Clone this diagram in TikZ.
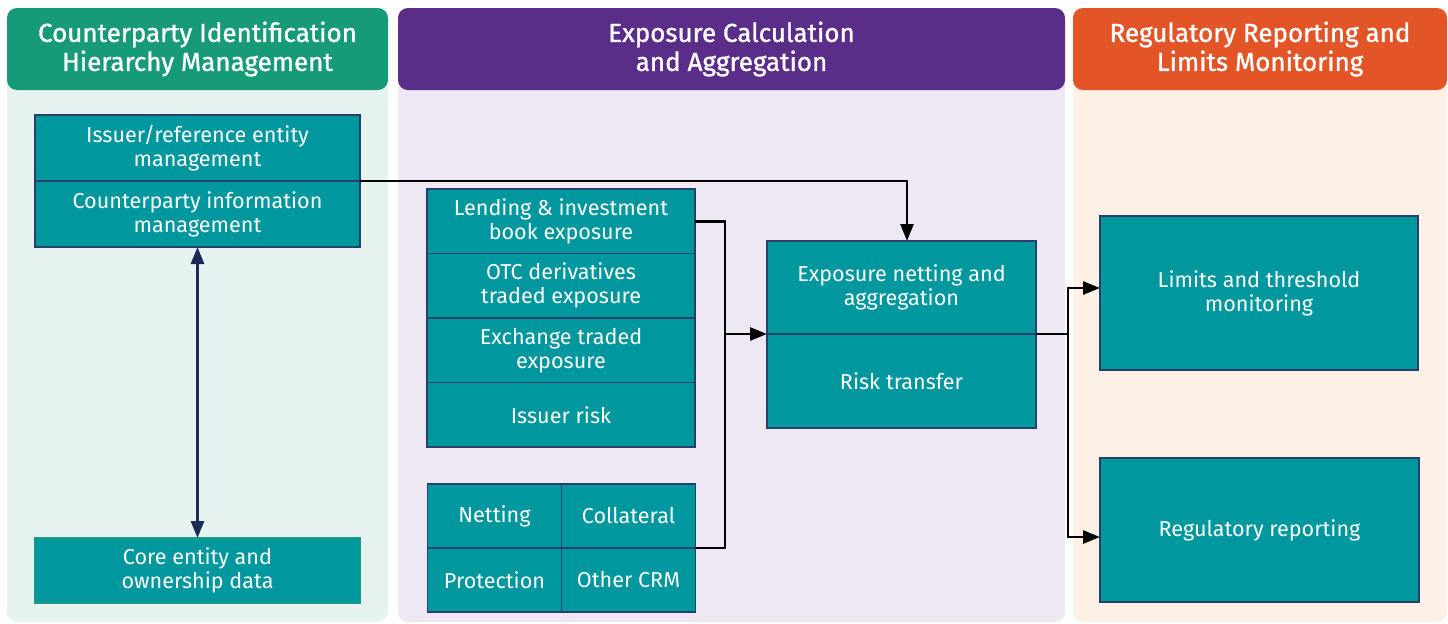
\documentclass[tikz,border=0pt]{standalone}
\usepackage{fontspec}
\setmainfont{Fira Sans}
\newfontfamily\headfont{Fira Sans}[FakeBold=1.2]
\usepackage{xcolor}
\usetikzlibrary{arrows.meta,calc,positioning}
\definecolor{cptyhead}{HTML}{169A78}
\definecolor{cptybody}{HTML}{E7F3F1}
\definecolor{expohead}{HTML}{5A2D89}
\definecolor{expobody}{HTML}{EEE8F4}
\definecolor{reghead}{HTML}{E35427}
\definecolor{regbody}{HTML}{FDF0E7}
\definecolor{boxteal}{HTML}{00979E}
\definecolor{boxline}{HTML}{24406B}
\definecolor{coreline}{HTML}{1D9A78}
\definecolor{linknavy}{HTML}{1B2A56}
\tikzset{
col head/.style={
  rounded corners=5pt,
  minimum height=41pt,
  inner sep=0pt,
  align=center,
  text=white,
  font=\fontsize{13}{14.5}\selectfont\headfont
},
flow box/.style={
  draw=boxline,
  fill=boxteal,
  line width=0.6pt,
  inner sep=0pt,
  outer sep=0pt,
  align=center,
  text=white,
  font=\fontsize{10.8}{12}\selectfont
},
stack box/.style={flow box, minimum width=134pt, minimum height=32.25pt},
crm box/.style={flow box, minimum width=67pt, minimum height=32pt},
flow line/.style={draw=black, line width=1.4pt},
flow/.style={flow line, -{Triangle[length=8.5pt,width=6.5pt]}},
link/.style={draw=linknavy, line width=1.4pt,
  {Triangle[length=8.5pt,width=6.5pt]}-{Triangle[length=8.5pt,width=6.5pt]}}
}
\begin{document}
\begin{tikzpicture}[x=0.5pt,y=-0.5pt]
\useasboundingbox (0,0) rectangle (1448,623);
% column backgrounds
\fill[cptybody, rounded corners=5pt] (7,8) rectangle (388,622);
\fill[expobody, rounded corners=5pt] (398,8) rectangle (1065,622);
\fill[regbody, rounded corners=5pt] (1073,8) rectangle (1447,622);
\node[col head, fill=cptyhead, minimum width=190.5pt] (hcpty) at (197.5,49) {Counterparty Identification\\Hierarchy Management};
\node[col head, fill=expohead, minimum width=333.5pt] (hexpo) at (731.5,49) {Exposure Calculation\\and Aggregation};
\node[col head, fill=reghead, minimum width=187pt] (hreg) at (1260,49) {Regulatory Reporting and\\Limits Monitoring};
% counterparty column
\node[flow box, minimum width=162.5pt, minimum height=33pt] (issuer) at (197.5,148) {Issuer/reference entity\\management};
\node[flow box, minimum width=162.5pt, minimum height=33pt, below=0pt of issuer] (cpinfo) {Counterparty information\\management};
\node[flow box, draw=coreline, minimum width=163pt, minimum height=32.5pt] (core) at (197.5,570.5) {Core entity and\\ownership data};
% exposure column
\node[stack box] (lending) at (561,221.25) {Lending \& investment\\book exposure};
\node[stack box, below=0pt of lending] (otc) {OTC derivatives\\traded exposure};
\node[stack box, below=0pt of otc] (exch) {Exchange traded\\exposure};
\node[stack box, below=0pt of exch] (issrisk) {Issuer risk};
\node[crm box] (netting) at (494.5,516) {Netting};
\node[crm box, right=0pt of netting] (collat) {Collateral};
\node[crm box, below=0pt of netting] (protect) {Protection};
\node[crm box, below=0pt of collat] (othercrm) {Other CRM};
\node[flow box, minimum width=134.5pt, minimum height=46.5pt] (netagg) at (901.5,287.5) {Exposure netting and\\aggregation};
\node[flow box, minimum width=134.5pt, minimum height=47pt, below=0pt of netagg] (risktr) {Risk transfer};
% reporting column
\node[flow box, minimum width=159pt, minimum height=77pt] (limits) at (1259,293) {Limits and threshold\\monitoring};
\node[flow box, minimum width=159.5pt, minimum height=72pt] (regrep) at (1259.5,530) {Regulatory reporting};
% connectors
\draw[flow] (cpinfo.north east) -| ([xshift=2.75pt]netagg.north);
\path (lending.east) ++(15pt,0) coordinate (mtop);
\coordinate (merge) at (mtop |- netagg.south west);
\draw[flow line] (lending.east) -| (merge) |- (collat.south east);
\draw[flow] (merge) -- (netagg.south west);
\path (netagg.south east) ++(16pt,0) coordinate (split);
\draw[flow line] (netagg.south east) -- (split);
\draw[flow] (split) |- ([yshift=2.5pt]limits.west);
\draw[flow] (split) |- ([yshift=-3.5pt]regrep.west);
\draw[link] (cpinfo.south) -- (core.north);
\end{tikzpicture}
\end{document}
